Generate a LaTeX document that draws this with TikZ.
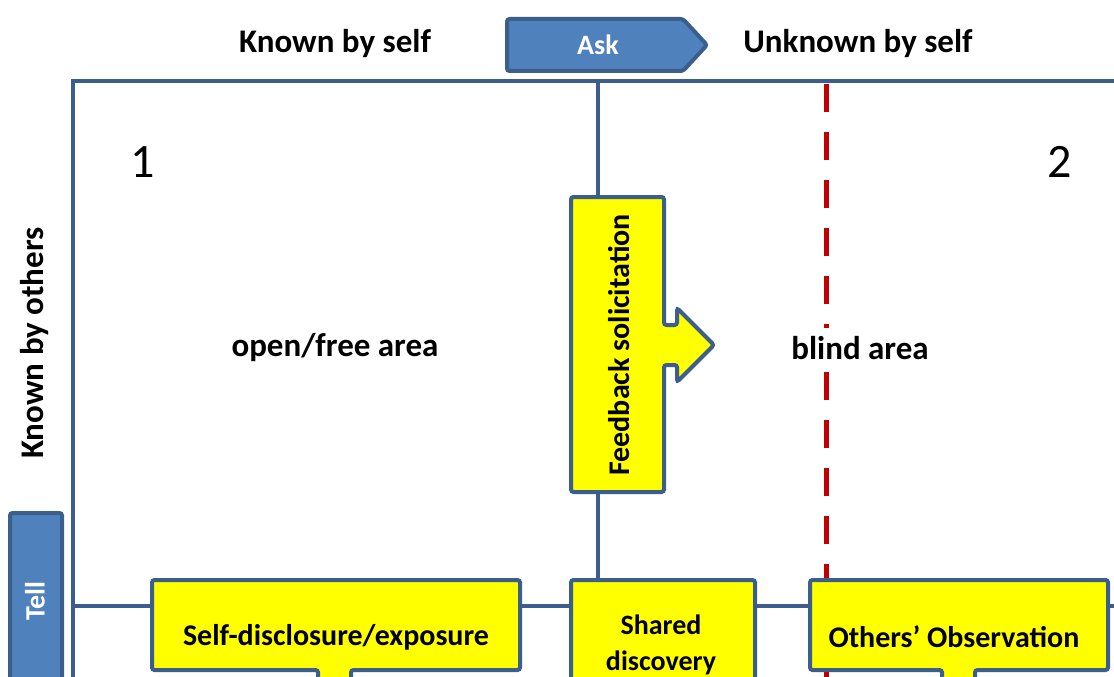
\documentclass[tikz,border=0pt]{standalone}
\usepackage{fontspec}
\setmainfont{Carlito}
\definecolor{edgeblue}{HTML}{3B5E8C}
\definecolor{fillblue}{HTML}{4F81BD}
\definecolor{boxyellow}{HTML}{FFFF00}
\definecolor{dashred}{HTML}{C00000}
\begin{document}
\begin{tikzpicture}[x=1pt,y=-1pt,
  gridline/.style={draw=edgeblue,line width=4pt},
  yellowbox/.style={draw=edgeblue,fill=boxyellow,line width=4pt,rounded corners=2.5pt},
  bluebox/.style={draw=edgeblue,fill=fillblue,line width=4pt,rounded corners=2.5pt},
  heading/.style={font=\bfseries\fontsize{33}{36}\selectfont,inner sep=0pt},
  boxlabel/.style={font=\bfseries\fontsize{30}{36}\selectfont,inner sep=0pt,align=center},
  whitelabel/.style={font=\bfseries\fontsize{28}{32}\selectfont,text=white,inner sep=0pt},
  number/.style={font=\fontsize{48}{52}\selectfont,inner sep=0pt}]
\useasboundingbox (0,0) rectangle (1114,677);
\clip (0,0) rectangle (1114,677);
\fill[white] (0,0) rectangle (1114,677);

% grid anchor points
\coordinate (topL) at (73,81);
\coordinate (topR) at (1120,81);
\coordinate (botL) at (73,690);
\coordinate (midT) at (598,81);
\coordinate (midB) at (598,580);
\coordinate (rowL) at (73,606);
\coordinate (rowR) at (1120,606);
\coordinate (dashT) at (826,84);
\coordinate (dashB) at (826,690);

% quadrant grid
\draw[gridline] (botL) -- (topL) -- (topR);
\draw[gridline] (midT) -- (midB);
\draw[gridline] (rowL) -- (rowR);
\draw[dashred,line width=5pt,dash pattern=on 28pt off 20pt] (dashT) -- (dashB);

% axis labels
\node[heading] (kself) at (335,44) {Known by self};
\node[heading] (uself) at (858,44) {Unknown by self};
\node[heading,rotate=90] (kothers) at (35,343) {Known by others};

% Ask arrow
\path[bluebox] (507,19) -- (683,19) -- (707,45) -- (683,71) -- (507,71) -- cycle;
\node[whitelabel] (ask) at (598,45) {Ask};

% Tell arrow
\path[bluebox] (10,513) rectangle (62,700);
\node[whitelabel,rotate=90] (tell) at (35,601) {Tell};

% quadrant numbers and names
\node[number] (one) at (143,162) {1};
\node[number] (two) at (1060,162) {2};
\node[heading] (open) at (335,348) {open/free area};
\node[heading,fill=white,inner xsep=0pt,inner ysep=8pt] (blind) at (860,348) {blind area};

% feedback callout
\path[yellowbox] (571,197) -- (664,197) -- (664,325) -- (677,325) -- (677,308)
  -- (714,345) -- (677,382) -- (677,365) -- (664,365) -- (664,492) -- (571,492) -- cycle;
\node[boxlabel,rotate=90] (feedback) at (619,345) {Feedback solicitation};

% bottom row callouts
\path[yellowbox] (152,580) -- (520,580) -- (520,670) -- (351,670) -- (351,700)
  -- (318,700) -- (318,670) -- (152,670) -- cycle;
\node[boxlabel] (self) at (336,637) {Self-disclosure/exposure};

\path[yellowbox] (571,580) rectangle (755,700);
\node[boxlabel,font=\bfseries\fontsize{28}{36}\selectfont] (shared) at (661,645) {Shared\\discovery};

\path[yellowbox] (810,580) -- (1108,580) -- (1108,670) -- (975,670) -- (975,700)
  -- (942,700) -- (942,670) -- (810,670) -- cycle;
\node[boxlabel] (others) at (954,637) {Others’ Observation};
\end{tikzpicture}
\end{document}
